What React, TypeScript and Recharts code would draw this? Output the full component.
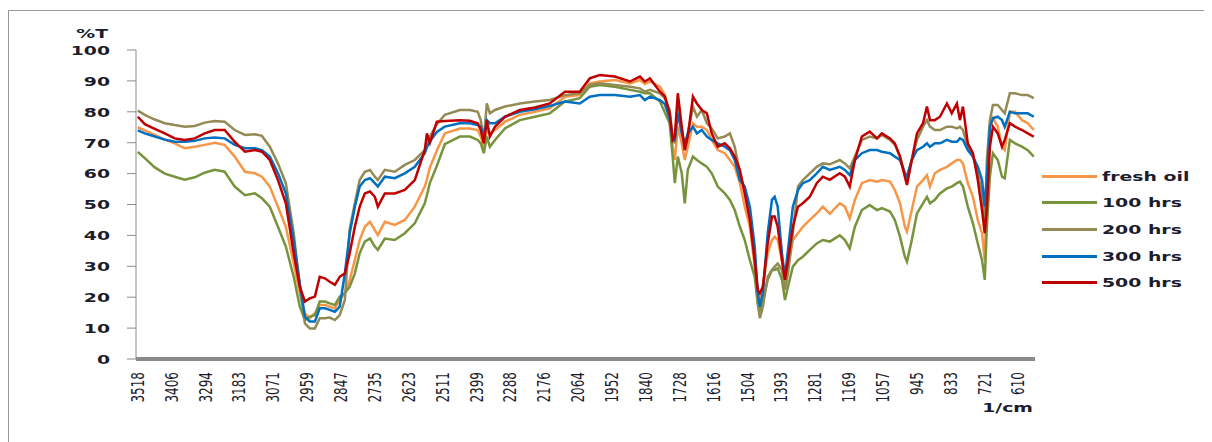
import React from 'react';
import { LineChart, Line, XAxis, YAxis, Legend, Label } from 'recharts';

const wavenumbers = [
  3518, 3495, 3462, 3429, 3396, 3363, 3330, 3297, 3264, 3231, 3198, 3164, 3131, 3108, 3082, 3055, 3029, 3003,
  2983, 2966, 2950, 2933, 2917, 2900, 2884, 2867, 2851, 2834, 2818, 2801, 2785, 2768, 2751, 2735, 2725, 2702,
  2669, 2636, 2603, 2570, 2563, 2553, 2530, 2504, 2454, 2421, 2395, 2385, 2375, 2365, 2355, 2338, 2305, 2256,
  2206, 2157, 2107, 2058, 2025, 1992, 1942, 1892, 1859, 1843, 1826, 1793, 1777, 1761, 1751, 1744, 1734, 1721,
  1711, 1701, 1684, 1671, 1655, 1638, 1622, 1602, 1579, 1562, 1546, 1529, 1513, 1496, 1480, 1470, 1463, 1453,
  1437, 1423, 1414, 1404, 1390, 1380, 1370, 1354, 1337, 1321, 1298, 1275, 1255, 1232, 1199, 1182, 1166, 1149,
  1126, 1100, 1076, 1060, 1033, 1017, 1000, 984, 977, 961, 944, 924, 911, 901, 885, 868, 845, 829, 812, 802,
  792, 776, 759, 743, 729, 720, 713, 703, 693, 677, 663, 654, 637, 620, 597, 578, 558,
];

const freshOil = [
  75, 74, 72.5, 71, 69.8, 68.2, 68.7, 69.3, 70, 69.3, 65.5, 60.6, 60.1, 59, 55.8, 49.3, 42.8, 31,
  21.3, 14.8, 13.2, 14.8, 17.5, 17.5, 16.9, 16.4, 19.1, 21.3, 25.6, 32, 38.5, 42.8, 44.4, 41.7, 40.1, 44.4,
  43.4, 45, 49.3, 55.8, 58, 62, 67.5, 73, 74.6, 74.6, 74.1, 72, 68.7, 74.1, 73, 74.1, 76.8, 79,
  80, 81.1, 84.9, 85.4, 89.2, 89.8, 90.3, 89.2, 90.3, 89, 89.8, 88.1, 85.5, 79.5, 68.7, 64.4, 75.2, 69.8,
  64.4, 68.7, 76.3, 75.2, 75.2, 74.1, 70.9, 67.6, 66.6, 64.4, 62.2, 56.9, 49.3, 42.8, 29.9, 21.3, 19.1, 23.4,
  34.2, 38.5, 39.6, 38.5, 32, 24.5, 29.9, 38.5, 40.7, 42.8, 45, 47.1, 49.3, 47, 50.4, 49.3, 45.5, 51.5,
  56.9, 57.9, 57.4, 57.9, 57.4, 54.7, 50.4, 42.8, 41.2, 48.2, 55.8, 57.9, 59.5, 55.8, 60.1, 61.2, 62.2, 63.3, 64.4, 64.4,
  63.3, 56.9, 52.5, 45, 40.7, 32, 53.6, 75.2, 77.9, 75.2, 68.7, 67.6, 80, 80, 77.3, 76.3, 74.1,
];

const hrs100 = [
  67, 65, 62, 60, 59, 58, 58.8, 60.3, 61.2, 60.6, 55.8, 53, 53.6, 52, 49.3, 42.8, 36.4, 26.6,
  17, 12.6, 13.7, 14.2, 18.6, 18.6, 18, 17.5, 20.2, 21.3, 23.4, 27.7, 34.2, 38, 39, 36.4, 35.3, 39,
  38.5, 40.7, 43.9, 50.4, 53, 57, 62.5, 69.5, 72, 72, 70.9, 69.8, 66.6, 72, 68.7, 70.9, 74.6, 77.3,
  78.4, 79.5, 83.3, 84.4, 88.1, 88.7, 88.1, 87.1, 86.5, 86, 86, 83.3, 79.8, 76.3, 65.5, 56.9, 65.5, 60.1,
  50.4, 61.2, 65.5, 64.4, 63.3, 62.2, 60.1, 55.8, 53.6, 51.5, 48.2, 42.8, 38.5, 32, 26.6, 18, 15.9, 19.1,
  25.6, 28.8, 28.8, 29.4, 25.6, 19.1, 23.4, 29.9, 32, 33.1, 35.3, 37.4, 38.5, 38, 40, 38.5, 35.8, 42.8,
  48.2, 49.8, 48.2, 48.8, 47.7, 45, 39.6, 33.1, 31.5, 38.5, 47.1, 50.4, 52.5, 50.4, 51.5, 53.6, 55.2, 55.8, 56.9, 57.4,
  55.8, 49.3, 43.9, 37.4, 32, 25.6, 42.8, 59, 66.6, 64.4, 59, 58.5, 70.9, 69.8, 68.7, 67.6, 65.5,
];

const hrs200 = [
  80.4, 79, 77.5, 76.3, 75.7, 75.2, 75.4, 76.5, 77, 76.8, 74.1, 72.5, 72.7, 72.2, 68.7, 63.3, 56.9, 40.7,
  23.4, 11.5, 9.9, 9.9, 13.2, 13.2, 13.4, 12.6, 14.2, 19.1, 42, 50.4, 57.9, 60.6, 61.2, 59, 57.9, 61.2,
  60.6, 62.8, 64.4, 67.6, 69.5, 72, 76, 79, 80.6, 80.6, 80, 77.3, 70.9, 82.7, 79.5, 80.6, 81.7, 82.7,
  83.3, 83.8, 85.4, 86, 88.7, 89.2, 88.7, 88.1, 87.6, 86.5, 87.1, 86, 84.3, 80.6, 72, 69.8, 81.7, 74.1,
  67.6, 73, 81.7, 78.4, 80.6, 76.3, 74.6, 71.4, 72, 73, 68.7, 60.1, 54.7, 46.1, 32, 18, 13.2, 16.9,
  26.6, 28.8, 29.9, 30.9, 28.8, 22.3, 27.7, 40.7, 55.8, 57.9, 60.1, 62.2, 63.3, 63, 64.4, 63.3, 61.7, 65.5,
  70.9, 72, 71.4, 72.5, 70.9, 69.3, 65.5, 60.1, 59, 64.4, 70.9, 75.2, 77.3, 75.2, 74.1, 74.1, 75.2, 75.2, 74.6, 75.2,
  74.1, 68.7, 65.5, 60.1, 53.6, 43, 64.4, 77.3, 82.2, 82.2, 80.6, 79.5, 86, 86, 85.4, 85.4, 84.4,
];

const hrs300 = [
  74, 73, 72, 71, 70.3, 70.3, 70.6, 71.4, 71.7, 71.4, 69.3, 68.2, 68.2, 67.6, 65.5, 60.1, 53.6, 38.5,
  24.5, 13.7, 12.1, 12.1, 16.4, 16.4, 15.9, 15.3, 16.9, 27.7, 40.7, 49.3, 55.8, 57.9, 58.5, 56.9, 55.8, 59,
  58.5, 60.1, 62.2, 66.6, 68.5, 70.5, 73.5, 75.2, 76.3, 76.3, 75.7, 75.2, 72, 77.3, 76.3, 76.3, 78.4, 80,
  80.8, 81.9, 83.3, 82.7, 84.9, 85.4, 85.4, 84.9, 85.4, 83.8, 84.9, 83.8, 82.5, 77.9, 70.9, 70.9, 79.5, 73,
  69.8, 73, 75.2, 73, 74.1, 72, 70.9, 69.8, 68.7, 67.6, 64.4, 57.9, 55.8, 49.3, 36.4, 21.3, 16.9, 21.3,
  40.7, 51.5, 52.5, 49.3, 34.2, 26.6, 35.3, 49.3, 54.7, 56.9, 57.9, 60.1, 62.2, 61.2, 62.2, 61.2, 59.5, 64.4,
  66.6, 67.6, 67.6, 67.1, 66.6, 65.5, 64.4, 60.1, 59, 64.4, 67.6, 68.7, 69.8, 68.7, 69.8, 69.8, 70.9, 70.3, 70.3, 71.4,
  70.9, 67.6, 65.5, 62.2, 57.9, 49.3, 59, 75.2, 77.9, 78.4, 77.3, 75.2, 80, 79.5, 79.5, 79.5, 78.4,
];

const hrs500 = [
  78.4, 76, 74.5, 73, 71.4, 70.9, 71.4, 73, 74.1, 74.1, 70.3, 67.1, 67.6, 67.1, 64.4, 57.9, 50.4, 34.2,
  23.4, 18.6, 19.6, 20.2, 26.6, 26.1, 25, 24, 26.6, 27.7, 34.2, 42.8, 49.3, 53.6, 54.2, 52.5, 49.3, 53.6,
  53.6, 54.7, 57.9, 67.6, 73, 70, 76.8, 77, 77.3, 77.1, 76.3, 74.1, 69.8, 77.3, 72, 75.2, 78.4, 80.6,
  81.4, 82.7, 86.5, 86.5, 90.8, 91.9, 91.4, 89.8, 91.4, 89.8, 90.8, 86.5, 85, 79.5, 70.9, 72, 86, 75.2,
  67.6, 72, 84.9, 82.7, 80.6, 79.5, 73, 68.7, 69.8, 68.2, 65.5, 61.2, 53.6, 45, 32, 22.3, 21.3, 23.4,
  37.4, 46.1, 46.1, 42.8, 32, 25.6, 32, 42.8, 49.3, 50.4, 52.5, 56.9, 59, 58, 60.1, 59, 55.8, 64.4,
  72, 73.6, 71.4, 73, 71.4, 69.8, 65.5, 59, 56.3, 64.4, 73, 76.3, 81.7, 77.3, 77.3, 78.4, 82.7, 79.5, 82.7, 77.3,
  81.7, 69.8, 66.6, 57.9, 48.2, 40.7, 49.3, 68.7, 75.2, 73, 68.7, 70.9, 76.3, 75.2, 74.1, 73, 72,
];

const xTicks = [
  3518, 3406, 3294, 3183, 3071, 2959, 2847, 2735, 2623, 2511, 2399, 2288, 2176, 2064, 1952, 1840, 1728, 1616,
  1504, 1393, 1281, 1169, 1057, 945, 833, 721, 610,
];
const yTicks = [0, 10, 20, 30, 40, 50, 60, 70, 80, 90, 100];

const seriesNames = ['fresh oil', '100 hrs', '200 hrs', '300 hrs', '500 hrs'];
const seriesKeys = ['fresh', 'h100', 'h200', 'h300', 'h500'];
const seriesColors = ['#F79646', '#77933C', '#948A54', '#0070C0', '#C00000'];
const seriesValues = [freshOil, hrs100, hrs200, hrs300, hrs500];

const rows = wavenumbers.map((wn, i) => {
  const r: Record<string, number> = { wn };
  seriesKeys.forEach((k, j) => {
    r[k] = seriesValues[j][i];
  });
  return r;
});

const FONT = '"DejaVu Sans", Verdana, sans-serif';
const SX = 1.45;

const YTick = (props: any) => {
  const { x, y, payload } = props;
  return (
    <g transform={`translate(${x - 15},${y})`}>
      <text x={0} y={0} dy={4.8} textAnchor="end" transform={`scale(${SX},1)`} fontFamily={FONT} fontSize={13} fontWeight="bold" fill="#1c1c2c">
        {payload.value}
      </text>
    </g>
  );
};

const XTick = (props: any) => {
  const { x, y, payload } = props;
  return (
    <g transform={`translate(${x},${y + 13}) scale(${SX},1) rotate(-90)`}>
      <text x={0} y={0} dy="0.36em" textAnchor="end" fontFamily={FONT} fontSize={12} fill="#1c1c2c">
        {payload.value}
      </text>
    </g>
  );
};

const renderLegend = () => (
  <div style={{ fontFamily: FONT }}>
    {seriesNames.map((name, i) => (
      <div key={name} style={{ height: 26.67, display: 'flex', alignItems: 'center' }}>
        <div style={{ width: 55, height: 3, background: seriesColors[i] }} />
        <span
          style={{
            marginLeft: 5,
            fontSize: 13,
            fontWeight: 'bold',
            color: '#1c1c2c',
            display: 'inline-block',
            transform: `scaleX(${SX})`,
            transformOrigin: 'left center',
            whiteSpace: 'nowrap',
          }}
        >
          {name}
        </span>
      </div>
    ))}
  </div>
);

export default function App() {
  return (
    <div style={{ position: 'relative', top: 2, width: 1202, height: 438, border: '1px solid #9a9a9a', background: '#fff' }}>
      <LineChart width={1202} height={430} data={rows} margin={{ top: 39, right: 176, bottom: 22, left: 0 }}>
        <XAxis
          type="number"
          dataKey="wn"
          domain={[554, 3524]}
          reversed
          ticks={xTicks}
          interval={0}
          allowDataOverflow
          height={60}
          axisLine={{ stroke: '#8a8a8a', strokeWidth: 4 }}
          tickLine={false}
          tickSize={0}
          tickMargin={0}
          tick={<XTick />}
        >
          <Label
            content={(p: any) => {
              const vb = p.viewBox;
              return (
                <g transform={`translate(${vb.x + vb.width - 2},${vb.y + 53}) scale(${SX},1)`}>
                  <text x={0} y={0} textAnchor="end" fontFamily={FONT} fontSize={13} fontWeight="bold" fill="#1c1c2c">
                    1/cm
                  </text>
                </g>
              );
            }}
          />
        </XAxis>
        <YAxis
          type="number"
          domain={[0, 100]}
          ticks={yTicks}
          interval={0}
          width={127}
          axisLine={{ stroke: '#8a8a8a', strokeWidth: 1 }}
          tickLine={{ stroke: '#8a8a8a' }}
          tickSize={9}
          tick={<YTick />}
        >
          <Label
            content={(p: any) => {
              const vb = p.viewBox;
              return (
                <g transform={`translate(${vb.x + 99},${vb.y - 12}) scale(${SX},1)`}>
                  <text x={0} y={0} textAnchor="end" fontFamily={FONT} fontSize={13} fontWeight="bold" fill="#1c1c2c">
                    %T
                  </text>
                </g>
              );
            }}
          />
        </YAxis>
        <Legend
          layout="vertical"
          align="center"
          verticalAlign="middle"
          wrapperStyle={{ left: 1033, top: 152, width: 165 }}
          content={renderLegend}
        />
        {seriesKeys.map((k, i) => (
          <Line
            key={k}
            type="linear"
            dataKey={k}
            name={seriesNames[i]}
            stroke={seriesColors[i]}
            strokeWidth={2.5}
            dot={false}
            activeDot={false}
            isAnimationActive={false}
          />
        ))}
      </LineChart>
    </div>
  );
}
